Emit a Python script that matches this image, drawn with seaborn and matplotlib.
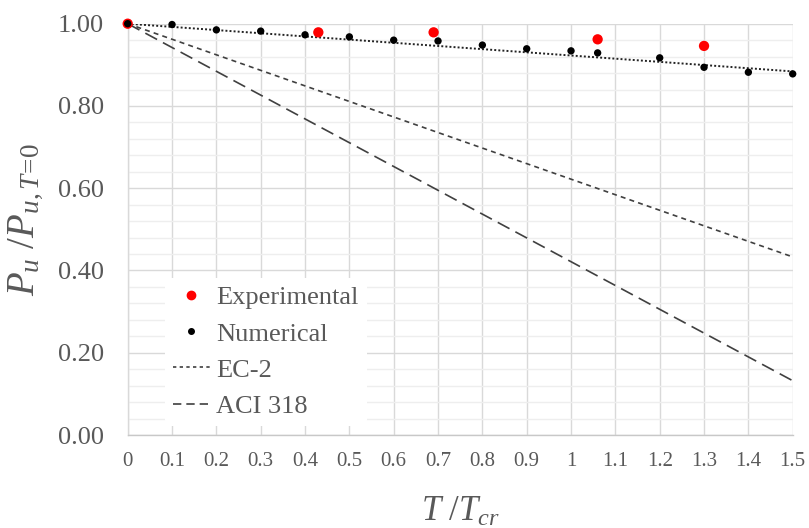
import numpy as np
import pandas as pd
import matplotlib
matplotlib.use("Agg")
import matplotlib.pyplot as plt
from matplotlib.ticker import MultipleLocator
from matplotlib.lines import Line2D
import seaborn as sns

# ---- data ----
exp_x = [0.0, 0.43, 0.69, 1.06, 1.30]
exp_y = [1.000, 0.979, 0.979, 0.962, 0.946]

num_x = [0.0, 0.1, 0.2, 0.3, 0.4, 0.5, 0.6, 0.7, 0.8, 0.9, 1.0, 1.06, 1.2, 1.3, 1.4, 1.5]
num_y = [1.000, 0.998, 0.985, 0.982, 0.973, 0.968, 0.960, 0.958, 0.948, 0.939,
         0.934, 0.929, 0.917, 0.894, 0.882, 0.878]

trend_x = [0.0, 1.5]
trend_y = [1.000, 0.884]

ec2_x = [0.0, 1.5]
ec2_y = [1.000, 0.433]

aci_x = [0.0, 1.5]
aci_y = [1.000, 0.132]

x_ticks = [0, 0.1, 0.2, 0.3, 0.4, 0.5, 0.6, 0.7, 0.8, 0.9, 1, 1.1, 1.2, 1.3, 1.4, 1.5]
x_ticklabels = ["0", "0.1", "0.2", "0.3", "0.4", "0.5", "0.6", "0.7", "0.8", "0.9",
                "1", "1.1", "1.2", "1.3", "1.4", "1.5"]
y_ticks = [0.0, 0.2, 0.4, 0.6, 0.8, 1.0]
y_ticklabels = ["0.00", "0.20", "0.40", "0.60", "0.80", "1.00"]

# ---- style ----
sns.set_theme(style="white")
plt.rcParams["font.family"] = ["Liberation Serif", "DejaVu Serif"]
plt.rcParams["mathtext.fontset"] = "custom"
plt.rcParams["mathtext.rm"] = "Liberation Serif"
plt.rcParams["mathtext.it"] = "Liberation Serif:italic"
plt.rcParams["mathtext.bf"] = "Liberation Serif:bold"

TXT = "#595959"

fig = plt.figure(figsize=(8.09, 5.28), dpi=100)
ax = fig.add_axes([127.7 / 809, 1 - 435 / 528, (792.7 - 127.7) / 809, (435 - 23.7) / 528])

# lines
sns.lineplot(x=trend_x, y=trend_y, ax=ax, color="#222222", lw=1.4,
             linestyle=(0, (1, 1.1)), zorder=3)
sns.lineplot(x=ec2_x, y=ec2_y, ax=ax, color="#404040", lw=1.2,
             linestyle=(0, (3, 2.5)), zorder=3)
sns.lineplot(x=aci_x, y=aci_y, ax=ax, color="#404040", lw=1.2,
             linestyle=(0, (8, 4)), zorder=3)

# points
sns.scatterplot(x=exp_x, y=exp_y, ax=ax, color="#ff0000", s=55, edgecolor="none",
                zorder=4, clip_on=False)
sns.scatterplot(x=num_x, y=num_y, ax=ax, color="#000000", s=28, edgecolor="none",
                zorder=5, clip_on=False)

ax.set_xlim(0, 1.5)
ax.set_ylim(0, 1.0)
ax.set_xticks(x_ticks)
ax.set_xticklabels(x_ticklabels)
ax.set_yticks(y_ticks)
ax.set_yticklabels(y_ticklabels)
ax.yaxis.set_minor_locator(MultipleLocator(0.04))

ax.grid(True, which="major", axis="both", color="#d9d9d9", lw=1.0, zorder=0)
ax.grid(True, which="minor", axis="y", color="#eeeeee", lw=1.0, zorder=0)
ax.set_axisbelow(True)

for side in ["top", "right"]:
    ax.spines[side].set_visible(False)
ax.spines["left"].set_color("#d9d9d9")
ax.spines["bottom"].set_color("#c8c8c8")
ax.spines["left"].set_linewidth(1.0)
ax.spines["bottom"].set_linewidth(1.0)

ax.tick_params(axis="y", which="both", length=0, pad=17, labelsize=19, labelcolor=TXT)
ax.tick_params(axis="x", which="both", length=0, pad=12, labelsize=15, labelcolor=TXT)

ax.set_ylabel(r"$P_u\ /P_{u,T\!=\!0}$", fontsize=28, color=TXT)
ax.yaxis.set_label_coords(-0.125, 0.525)
ax.set_xlabel(r"$T\ /T_{cr}$", fontsize=25, color=TXT, labelpad=18)

handles = [
    Line2D([], [], color="#ff0000", marker="o", linestyle="none", markersize=6),
    Line2D([], [], color="#000000", marker="o", linestyle="none", markersize=4),
    Line2D([], [], color="#404040", lw=1.2, linestyle=(0, (2, 2))),
    Line2D([], [], color="#404040", lw=1.2, linestyle=(0, (5, 3))),
]
labels = ["Experimental", "Numerical", "EC-2", "ACI 318"]
leg = ax.legend(handles, labels, loc="upper left",
                bbox_to_anchor=((165 - 127.7) / 665, 1 - (278 - 23.7) / 411.3),
                frameon=True, facecolor="white", edgecolor="none", framealpha=1.0,
                fontsize=19, handlelength=1.4, handletextpad=0.25, labelspacing=0.48,
                borderpad=0.3, borderaxespad=0)
for t in leg.get_texts():
    t.set_color(TXT)
leg.set_zorder(6)

fig.savefig("out.png", dpi=100)
